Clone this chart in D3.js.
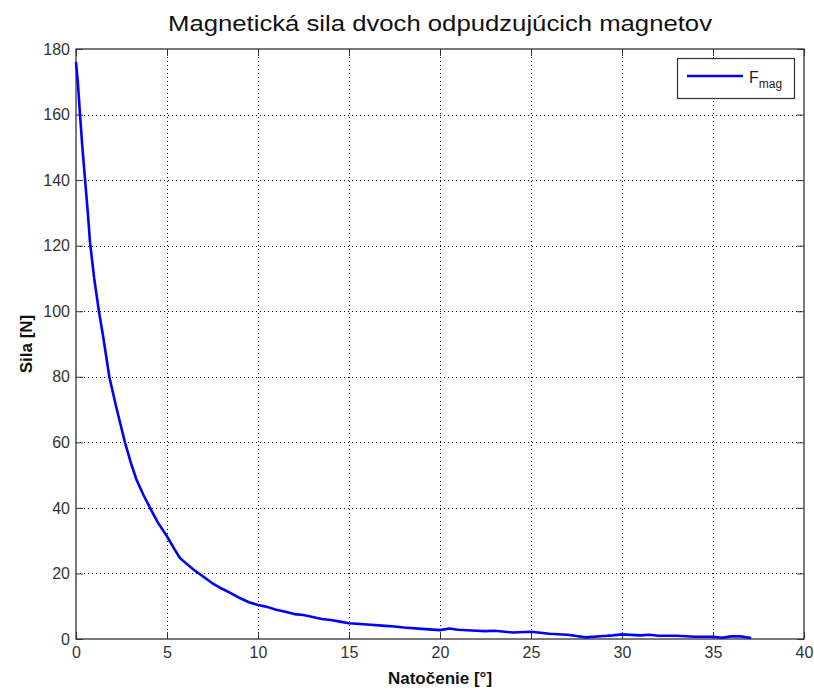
<!DOCTYPE html>
<html>
<head>
<meta charset="utf-8">
<script src="https://cdn.jsdelivr.net/npm/d3@7"></script>
<style>
	body { margin: 0; background: #fff; }
	svg { font-family: "Liberation Sans", Arial, sans-serif; }
	.grid line { stroke: #000; stroke-dasharray: 1,3; stroke-width: 1; shape-rendering: crispEdges; }
	.tick text { fill: #333; font-size: 16px; }
</style>
</head>
<body>
<svg width="814" height="691"></svg>
<script>
	// angle of rotation [deg] and magnetic force [N]
	var angles = [0, 0.1, 0.22, 0.35, 0.5, 0.65, 0.77, 1.0, 1.26, 1.5, 1.83, 2.2, 2.69, 3.0, 3.33, 3.7, 4.07, 4.5, 4.98, 5.4, 5.71, 6.0, 6.45, 7.0, 7.5, 8.0, 8.5, 9.0, 9.5, 10.0, 10.5, 11.0, 11.5, 12.0, 12.5, 13.0, 13.5, 14, 14.5, 15, 16, 17, 17.5, 18, 19, 20, 20.5, 21, 22, 22.5, 23, 24, 25, 25.5, 26, 27, 27.5, 28, 29, 29.5, 30, 31, 31.5, 32, 33, 34, 35, 35.5, 36, 36.5, 37.1];
	var force = [176, 170, 160, 150, 140, 130, 121, 110, 100, 92, 80, 71, 60, 54, 48.5, 44, 40, 35.5, 31.5, 27.5, 24.7, 23.3, 21.2, 19, 17, 15.4, 14, 12.5, 11.2, 10.4, 9.8, 8.9, 8.3, 7.6, 7.3, 6.7, 6.1, 5.8, 5.3, 4.8, 4.4, 4.0, 3.8, 3.5, 3.1, 2.7, 3.2, 2.8, 2.5, 2.4, 2.5, 2.0, 2.2, 1.9, 1.6, 1.3, 0.9, 0.5, 0.9, 1.1, 1.4, 1.1, 1.3, 1.0, 1.0, 0.7, 0.7, 0.4, 0.8, 0.8, 0.3];
	var xTicks = [0, 5, 10, 15, 20, 25, 30, 35, 40];
	var yTicks = [0, 20, 40, 60, 80, 100, 120, 140, 160, 180];

	var title = "Magnetická sila dvoch odpudzujúcich magnetov";
	var xLabel = "Natočenie [°]";
	var yLabel = "Sila [N]";

	var m = { left: 76, right: 804, top: 49, bottom: 639 };

	var svg = d3.select("svg");

	var x = d3.scaleLinear().domain([0, 40]).range([m.left, m.right]);
	var y = d3.scaleLinear().domain([0, 180]).range([m.bottom, m.top]);

	// grid
	var grid = svg.append("g").attr("class", "grid");
	grid.selectAll(".gx")
		.data(xTicks.slice(1, -1))
		.enter().append("line")
		.attr("x1", d => Math.round(x(d)) + 0.5).attr("x2", d => Math.round(x(d)) + 0.5)
		.attr("y1", m.top).attr("y2", m.bottom);
	grid.selectAll(".gy")
		.data(yTicks.slice(1, -1))
		.enter().append("line")
		.attr("y1", d => Math.round(y(d)) + 0.5).attr("y2", d => Math.round(y(d)) + 0.5)
		.attr("x1", m.left).attr("x2", m.right);

	// axes, ticks pointing inward
	var tickLen = 7;
	svg.append("g")
		.attr("transform", "translate(0," + m.bottom + ")")
		.call(d3.axisBottom(x).tickValues(xTicks).tickSize(-tickLen).tickPadding(8).tickSizeOuter(0))
		.call(g => g.select(".domain").remove());
	svg.append("g")
		.attr("transform", "translate(" + m.left + ",0)")
		.call(d3.axisLeft(y).tickValues(yTicks).tickSize(-tickLen).tickPadding(6).tickSizeOuter(0))
		.call(g => g.select(".domain").remove());
	svg.append("g")
		.attr("transform", "translate(0," + m.top + ")")
		.call(d3.axisTop(x).tickValues(xTicks).tickSize(-tickLen).tickFormat(""))
		.call(g => g.select(".domain").remove());
	svg.append("g")
		.attr("transform", "translate(" + m.right + ",0)")
		.call(d3.axisRight(y).tickValues(yTicks).tickSize(-tickLen).tickFormat(""))
		.call(g => g.select(".domain").remove());
	svg.selectAll(".tick line").attr("stroke", "#333");

	// box
	svg.append("rect")
		.attr("x", m.left).attr("y", m.top)
		.attr("width", m.right - m.left).attr("height", m.bottom - m.top)
		.attr("fill", "none").attr("stroke", "#333").attr("stroke-width", 1.3);

	// curve
	var pts = angles.map((a, i) => [a, force[i]]);
	svg.append("path")
		.datum(pts)
		.attr("fill", "none")
		.attr("stroke", "#0000ff")
		.attr("stroke-width", 2.6)
		.attr("stroke-linejoin", "round")
		.attr("d", d3.line().x(d => x(d[0])).y(d => y(d[1])));

	// legend
	var lg = svg.append("g");
	lg.append("rect")
		.attr("x", 677.5).attr("y", 58.5).attr("width", 117).attr("height", 40)
		.attr("fill", "#fff").attr("stroke", "#333").attr("stroke-width", 1.2);
	lg.append("line")
		.attr("x1", 687).attr("x2", 743).attr("y1", 76).attr("y2", 76)
		.attr("stroke", "#0000ff").attr("stroke-width", 2.6);
	var lt = lg.append("text").attr("x", 749).attr("y", 83).attr("font-size", 16).attr("fill", "#222");
	lt.append("tspan").text("F");
	lt.append("tspan").attr("dy", 5).attr("font-size", 12).text("mag");

	// titles
	svg.append("text")
		.attr("x", (m.left + m.right) / 2).attr("y", 31)
		.attr("text-anchor", "middle").attr("font-size", 22).attr("fill", "#111")
		.attr("textLength", 544).attr("lengthAdjust", "spacingAndGlyphs")
		.text(title);
	svg.append("text")
		.attr("x", (m.left + m.right) / 2).attr("y", 684)
		.attr("text-anchor", "middle").attr("font-size", 17).attr("font-weight", "bold").attr("fill", "#111")
		.text(xLabel);
	svg.append("text")
		.attr("transform", "translate(32," + ((m.top + m.bottom) / 2) + ") rotate(-90)")
		.attr("text-anchor", "middle").attr("font-size", 17).attr("font-weight", "bold").attr("fill", "#111")
		.text(yLabel);
</script>
</body>
</html>
